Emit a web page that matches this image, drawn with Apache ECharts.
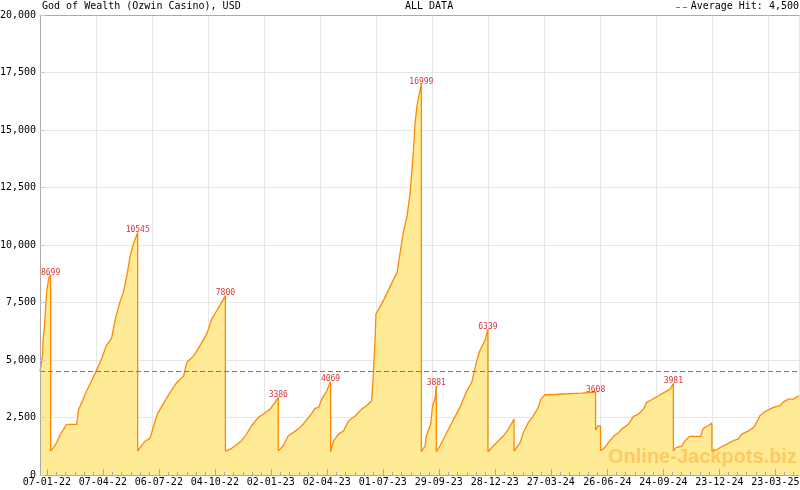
<!DOCTYPE html>
<html><head><meta charset="utf-8">
<script src="https://cdn.jsdelivr.net/npm/echarts@6/dist/echarts.min.js"></script>
<style>html,body{margin:0;padding:0;background:#fff}#c{width:800px;height:490px}</style>
</head><body><div id="c"></div>
<script>
const chartTitle = 'God of Wealth (Ozwin Casino), USD';
const subTitle = 'ALL DATA';
const averageHit = 4500;
const watermark = 'Online-Jackpots.biz';

// x tick labels (dd-mm-yy)
const xTickLabels = ['07-01-22','07-04-22','06-07-22','04-10-22','02-01-23','02-04-23','01-07-23',
  '29-09-23','28-12-23','27-03-24','26-06-24','24-09-24','23-12-24','23-03-25'];

// x extent in days since 07-01-22
const xMin = -11, xMax = 1209;

// series: days since 07-01-22 and jackpot value (USD)
const days = [
  -11,-7,-6,-4,-2,0,3,6,6,
  11,16,21,27,32,48,51,56,64,72,80,88,96,104,110,118,123,129,134,139,146,146,
  150,158,166,174,179,187,198,209,220,225,236,246,257,265,273,281,287,287,
  295,303,313,321,329,340,348,359,367,372,372,
  380,388,396,404,412,423,431,437,442,450,456,456,
  461,469,477,485,496,506,514,522,525,528,529,538,546,555,563,568,573,579,584,589,592,595,598,602,602,
  608,610,613,617,620,624,626,626,
  632,643,654,664,675,683,691,696,704,709,709,
  718,734,742,751,751,
  761,766,774,782,790,794,801,822,824,860,862,882,882,
  886,890,890,
  897,905,911,919,924,935,943,951,959,964,972,983,994,1002,1007,1007,
  1012,1020,1026,1033,1051,1055,1063,1069,1069,
  1077,1085,1093,1103,1111,1117,1128,1136,1141,1146,1154,1162,1170,1178,1184,1192,1200,1209
];
const values = [
  4500,5180,5910,6390,7290,8010,8550,8699,1040,
  1200,1420,1730,1995,2200,2200,2835,3155,3660,4095,4560,5040,5650,5940,6780,7570,7940,8735,9530,10040,10545,1040,
  1200,1470,1605,2360,2720,3080,3590,4025,4310,4895,5180,5615,6125,6780,7140,7505,7800,1040,
  1125,1270,1490,1780,2140,2505,2650,2865,3155,3386,1050,
  1270,1705,1850,1995,2210,2575,2895,2940,3300,3660,4069,1010,
  1490,1780,1920,2360,2575,2865,3010,3225,4460,6125,6995,7430,7865,8375,8810,9680,10550,11270,12285,14025,15330,16050,16485,16999,1010,
  1270,1705,1780,2210,3010,3300,3881,1010,
  1270,1850,2430,2940,3660,4025,4965,5400,5835,6339,1010,
  1270,1705,1995,2430,1040,
  1420,1850,2285,2575,2940,3300,3490,3510,3540,3560,3608,3608,1950,
  2140,2140,1050,
  1200,1490,1680,1850,1995,2210,2550,2650,2865,3155,3270,3445,3615,3735,3981,1050,
  1200,1250,1490,1680,1680,2025,2140,2255,1050,
  1095,1240,1340,1490,1560,1780,1920,2070,2285,2575,2750,2865,2965,3010,3180,3300,3300,3445
];

// labelled hits
const peakDays   = [6, 146, 287, 372, 456, 602, 626, 709, 882, 1007];
const peakValues = [8699, 10545, 7800, 3386, 4069, 16999, 3881, 6339, 3608, 3981];

const MONO = '"DejaVu Sans Mono", "Liberation Mono", monospace';
const EPOCH = Date.UTC(2022, 0, 7);
function labelToDay(s) {
  const p = s.split('-').map(Number);
  return Math.round((Date.UTC(2000 + p[2], p[1] - 1, p[0]) - EPOCH) / 86400000);
}
const labelDays = xTickLabels.map(labelToDay);
const labelByDay = {};
labelDays.forEach((d, i) => { labelByDay[d] = xTickLabels[i]; });
const minorDays = [];
for (let d = 0; d <= xMax; d += 15) if (d % 90 !== 0) minorDays.push(d);

const lineData = days.map((d, i) => [d, values[i]]);
const peakData = peakDays.map((d, i) => [d, peakValues[i]]);

const chart = echarts.init(document.getElementById('c'), null, {renderer: 'canvas'});
const axisGrey = '#aaaaaa';
const gridGrey = '#e6e6e6';
const avgBlue = '#2f8fd0';
const hiddenX = {type: 'value', min: xMin, max: xMax, interval: 90, axisLabel: {show: false}, splitLine: {show: false}};
chart.setOption({
  animation: false,
  grid: {left: 40, right: 1, top: 15, bottom: 15, containLabel: false, outerBoundsMode: 'none'},
  xAxis: [
    {type: 'value', position: 'bottom', min: xMin, max: xMax, interval: 90,
     axisLine: {show: false, onZero: false}, axisTick: {show: false},
     splitLine: {show: true, lineStyle: {color: gridGrey, width: 1}},
     axisLabel: {customValues: labelDays, formatter: v => labelByDay[v] || '',
       fontFamily: MONO, fontSize: 10, color: '#000', margin: 2}},
    Object.assign({}, hiddenX, {position: 'bottom', z: 5, axisLine: {show: true, onZero: false, lineStyle: {color: axisGrey}},
      axisTick: {show: true, inside: true, length: 6, customValues: labelDays, lineStyle: {color: axisGrey}}}),
    Object.assign({}, hiddenX, {position: 'bottom', z: 5, axisLine: {show: false, onZero: false},
      axisTick: {show: true, inside: true, length: 3, customValues: minorDays, lineStyle: {color: axisGrey}}}),
    Object.assign({}, hiddenX, {position: 'top', z: 5, axisLine: {show: true, onZero: false, lineStyle: {color: axisGrey}},
      axisTick: {show: false}})
  ],
  yAxis: [
    {type: 'value', position: 'left', min: 0, max: 20000, interval: 2500,
     axisLine: {show: false, onZero: false}, axisTick: {show: false},
     splitLine: {show: true, lineStyle: {color: gridGrey, width: 1}},
     axisLabel: {formatter: v => v.toLocaleString('en-US'), fontFamily: MONO, fontSize: 10, color: '#000', margin: 4}},
    {type: 'value', min: 0, max: 20000, interval: 2500, position: 'left', z: 5,
     axisLine: {show: true, onZero: false, lineStyle: {color: axisGrey}},
     axisTick: {show: true, inside: true, length: 5, lineStyle: {color: '#cccccc'}},
     axisLabel: {show: false}, splitLine: {show: false}}
  ],
  series: [
    {type: 'line', xAxisIndex: 0, yAxisIndex: 0, data: lineData, showSymbol: false, symbol: 'none',
     lineStyle: {color: '#ff8a00', width: 1.3}, areaStyle: {color: '#ffeb96', opacity: 1},
     z: 2,
     markLine: {silent: true, symbol: 'none', label: {show: false},
       lineStyle: {color: avgBlue, type: [5, 3], width: 1, opacity: 1},
       data: [{yAxis: averageHit}]}},
    {type: 'scatter', xAxisIndex: 0, yAxisIndex: 0, data: peakData, symbolSize: 1,
     itemStyle: {color: 'rgba(0,0,0,0)'}, z: 4,
     label: {show: true, position: 'top', distance: 0, offset: [0, 2], formatter: p => String(p.value[1]),
       fontFamily: MONO, fontSize: 8, color: '#cc0000'}}
  ],
  graphic: [
    {type: 'text', left: 42, top: 1, z: 10, style: {text: chartTitle, font: '10px ' + MONO, fill: '#000'}},
    {type: 'text', left: 405, top: 1, z: 10, style: {text: subTitle, font: '10px ' + MONO, fill: '#000'}},
    {type: 'line', z: 10, shape: {x1: 676, y1: 7.5, x2: 690, y2: 7.5},
     style: {stroke: avgBlue, lineWidth: 1, lineDash: [4, 3]}},
    {type: 'text', right: 1, top: 1, z: 10, style: {text: 'Average Hit: ' + averageHit.toLocaleString('en-US'), font: '10px ' + MONO, fill: '#000'}},
    {type: 'text', left: 608, top: 447, z: 10, silent: true,
     style: {text: watermark, font: 'bold 20px "Liberation Sans", Arial, sans-serif', fill: 'rgba(250,160,30,0.45)'}}
  ]
});
</script></body></html>
